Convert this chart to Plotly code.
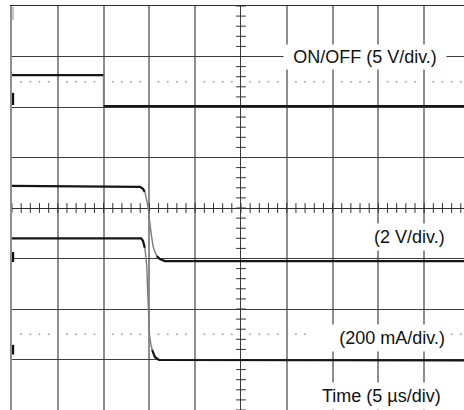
import numpy as np
import plotly.graph_objects as go

# Screen coordinates in divisions (time 5 us/div), centre of screen = (0, 0)
X_MIN, X_MAX = -5.0, 4.87
Y_MIN, Y_MAX = -4.0, 4.0

# ON/OFF signal (5 V/div.)
onoff_t = [-5.0, -3.0, -3.0, 4.87]
onoff_v = [2.63, 2.63, 2.02, 2.02]

# Output voltage (2 V/div.)
vout_t = [-5.0, -2.205, -2.14, -2.10, -2.06, -2.02, -1.99, -1.95, -1.91, -1.84, -1.77, -1.66, 4.87]
vout_v = [0.44, 0.42, 0.38, 0.32, 0.16, -0.04, -0.30, -0.57, -0.79, -0.95, -1.01, -1.05, -1.05]

# Output current (200 mA/div.)
iout_t = [-5.0, -2.25, -2.18, -2.14, -2.10, -2.06, -2.04, -2.02, -1.99, -1.94, -1.88, -1.79, 4.87]
iout_v = [-0.60, -0.60, -0.60, -0.65, -0.79, -1.13, -1.58, -2.02, -2.57, -2.81, -2.95, -3.01, -3.02]

# channel ground markers on the left edge (y ranges)
ground_markers = [(3.98, 3.72, "#c8c8c8"), (2.28, 2.04, "#111"), (-0.87, -1.07, "#111"), (-2.71, -2.90, "#111")]

# reference dotted levels
dotted_levels = [2.5, -2.5]

labels = ["ON/OFF (5 V/div.)", "(2 V/div.)", "(200 mA/div.)", "Time (5 µs/div)"]

FONT = "Liberation Sans, Arial, Helvetica, sans-serif"
TRACE = "#151515"
FALL = "#7a7a7a"

fig = go.Figure()

minor_x = np.round(np.arange(X_MIN, X_MAX + 0.01, 0.2), 2)
minor_y = np.round(np.arange(Y_MIN, Y_MAX + 0.01, 0.2), 2)
dot_x = [x for x in minor_x if abs(x - round(x)) > 1e-6]

# dotted reference lines
for lvl in dotted_levels:
    fig.add_trace(go.Scatter(x=dot_x, y=[lvl] * len(dot_x), mode="markers",
                             marker=dict(size=2, color="#a8a8a8"), hoverinfo="skip"))

# minor ticks on centre axes
fig.add_trace(go.Scatter(x=minor_x, y=[0] * len(minor_x), mode="markers",
                         marker=dict(symbol="line-ns", size=7, line=dict(width=1, color="#333")),
                         hoverinfo="skip"))
fig.add_trace(go.Scatter(x=[0] * len(minor_y), y=minor_y, mode="markers",
                         marker=dict(symbol="line-ew", size=7, line=dict(width=1, color="#333")),
                         hoverinfo="skip"))


def add_signal(t, v, i0, i1):
    fig.add_trace(go.Scatter(x=t[:i0 + 1], y=v[:i0 + 1], mode="lines",
                             line=dict(color=TRACE, width=2.2), hoverinfo="skip"))
    fig.add_trace(go.Scatter(x=t[i0:i1 + 1], y=v[i0:i1 + 1], mode="lines",
                             line=dict(color=FALL, width=1.4, shape="spline"), hoverinfo="skip"))
    fig.add_trace(go.Scatter(x=t[i1:], y=v[i1:], mode="lines",
                             line=dict(color=TRACE, width=2.2), hoverinfo="skip"))


add_signal(onoff_t, onoff_v, 1, 2)
add_signal(vout_t, vout_v, 3, 9)
add_signal(iout_t, iout_v, 4, 9)

# ground markers
for top, bot, col in ground_markers:
    fig.add_trace(go.Scatter(x=[X_MIN + 0.02, X_MIN + 0.02], y=[top, bot], mode="lines",
                             line=dict(color=col, width=2.5), hoverinfo="skip"))

ann_style = dict(showarrow=False, bgcolor="white", xref="x", yref="y",
                 font=dict(family=FONT, size=18, color="#111"))
fig.add_annotation(text=labels[0], x=2.71, y=3.0, xanchor="center", yanchor="middle",
                   width=162, height=24, borderpad=0, **ann_style)
fig.add_annotation(text=labels[1], x=4.54, y=-0.58, xanchor="right", yanchor="middle",
                   borderpad=3, **ann_style)
fig.add_annotation(text=labels[2], x=4.54, y=-2.57, xanchor="right", yanchor="middle",
                   width=132, align="right", borderpad=3, **ann_style)
fig.add_annotation(text=labels[3], x=4.45, y=-3.72, xanchor="right", yanchor="middle",
                   borderpad=3, **ann_style)

fig.update_layout(width=464, height=410, margin=dict(l=12, r=0, t=6, b=0, pad=0),
                  paper_bgcolor="white", plot_bgcolor="white", showlegend=False)
fig.update_xaxes(range=[X_MIN, X_MAX], tick0=0, dtick=1, showgrid=True, gridcolor="#8e8e8e",
                 gridwidth=1.5, zeroline=True, zerolinecolor="#3a3a3a", zerolinewidth=1,
                 showticklabels=False, ticks="", side="top", showline=True,
                 linecolor="#2a2a2a", linewidth=1.2, fixedrange=True)
fig.update_yaxes(range=[Y_MIN, Y_MAX], tick0=0, dtick=1, showgrid=True, gridcolor="#3c3c3c",
                 gridwidth=1, zeroline=True, zerolinecolor="#2e2e2e", zerolinewidth=1,
                 showticklabels=False, ticks="", showline=True, linecolor="#8e8e8e",
                 linewidth=1.5, fixedrange=True)

fig.write_html("out.html")
